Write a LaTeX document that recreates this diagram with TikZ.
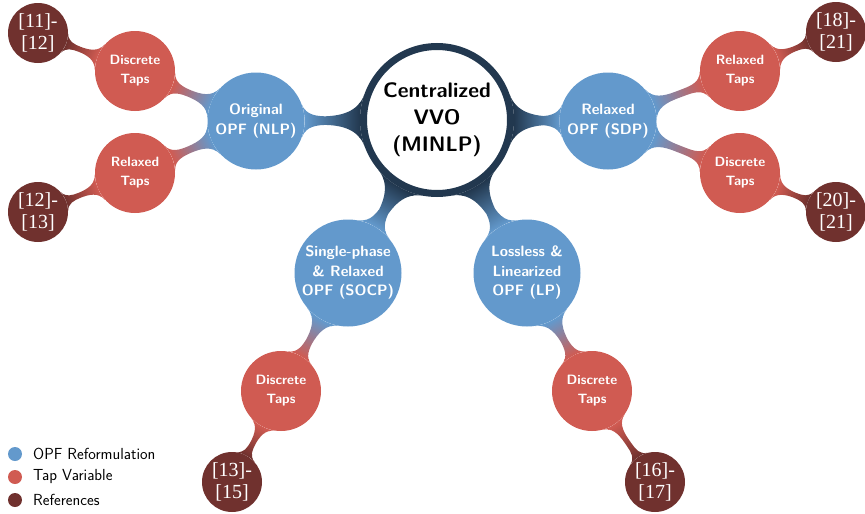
\documentclass[tikz,border=0pt]{standalone}
\usepackage{fontspec}
\newfontfamily\reffont{Liberation Serif}
\usetikzlibrary{mindmap,backgrounds}
\definecolor{rootc}{HTML}{22384F}
\definecolor{opfc}{HTML}{6399CC}
\definecolor{tapc}{HTML}{D05B52}
\definecolor{refc}{HTML}{70312E}
\begin{document}
\begin{tikzpicture}[x=1pt,y=-1pt,
  bubble/.style={circle, inner sep=0pt, align=center, text=white},
  rootnode/.style={circle, fill=white, draw=rootc, line width=7pt, minimum size=147pt,
    inner sep=0pt, align=center, font=\sffamily\bfseries\fontsize{21}{27}\selectfont},
  opfnode/.style={bubble, fill=opfc, font=\sffamily\bfseries\fontsize{15}{19.5}\selectfont},
  tapnode/.style={bubble, fill=tapc, minimum size=80pt, font=\sffamily\bfseries\fontsize{13.5}{19}\selectfont},
  refnode/.style={bubble, fill=refc, minimum size=60pt, font=\reffont\fontsize{20}{22}\selectfont},
  keydot/.style={circle, inner sep=0pt, minimum size=14pt},
  keytext/.style={anchor=west, inner sep=0pt, font=\sffamily\fontsize{16}{18}\selectfont},
  rootbar/.style={circle connection bar switch color=from (rootc) to (opfc)},
  opfbar/.style={circle connection bar switch color=from (opfc) to (tapc)},
  tapbar/.style={circle connection bar switch color=from (tapc) to (refc)},
]
\useasboundingbox (0,0) rectangle (865,514);

% central problem
\node[rootnode] (root) at (437,120) {Centralized\\VVO\\(MINLP)};

% OPF reformulations
\node[opfnode, minimum size=97pt]  (nlp)  at (256,121) {Original\\OPF (NLP)};
\node[opfnode, minimum size=97pt]  (sdp)  at (608,121) {Relaxed\\OPF (SDP)};
\node[opfnode, minimum size=107pt] (socp) at (348,273) {Single-phase\\\& Relaxed\\OPF (SOCP)};
\node[opfnode, minimum size=107pt] (lp)   at (527,273) {Lossless \&\\Linearized\\OPF (LP)};

% tap variables
\node[tapnode] (dtnlp)  at (135,71)  {Discrete\\Taps};
\node[tapnode] (rtnlp)  at (135,173) {Relaxed\\Taps};
\node[tapnode] (rtsdp)  at (740,71)  {Relaxed\\Taps};
\node[tapnode] (dtsdp)  at (740,173) {Discrete\\Taps};
\node[tapnode] (dtsocp) at (281,391) {Discrete\\Taps};
\node[tapnode] (dtlp)   at (592,391) {Discrete\\Taps};

% references
\node[refnode] (ra) at (38,33)   {[11]-\\{}[12]};
\node[refnode] (rb) at (38,212)  {[12]-\\{}[13]};
\node[refnode] (rc) at (836,32)  {[18]-\\{}[21]};
\node[refnode] (rd) at (836,212) {[20]-\\{}[21]};
\node[refnode] (re) at (232,482) {[13]-\\{}[15]};
\node[refnode] (rf) at (655,482) {[16]-\\{}[17]};

% connection bars
\begin{scope}[on background layer]
  \path (root) to[rootbar] (nlp);
  \path (root) to[rootbar] (sdp);
  \path (root) to[rootbar] (socp);
  \path (root) to[rootbar] (lp);
  \path (nlp) to[opfbar] (dtnlp);
  \path (nlp) to[opfbar] (rtnlp);
  \path (sdp) to[opfbar] (rtsdp);
  \path (sdp) to[opfbar] (dtsdp);
  \path (socp) to[opfbar] (dtsocp);
  \path (lp) to[opfbar] (dtlp);
  \path (dtnlp) to[tapbar] (ra);
  \path (rtnlp) to[tapbar] (rb);
  \path (rtsdp) to[tapbar] (rc);
  \path (dtsdp) to[tapbar] (rd);
  \path (dtsocp) to[tapbar] (re);
  \path (dtlp) to[tapbar] (rf);
\end{scope}

% legend
\node[keydot, fill=opfc] (k1) at (15,454) {};
\node[keydot, fill=tapc] (k2) at (15,477) {};
\node[keydot, fill=refc] (k3) at (15,500) {};
\node[keytext] (t1) at (33,454) {OPF Reformulation};
\node[keytext] (t2) at (33,477) {Tap Variable};
\node[keytext] (t3) at (33,500) {References};
\end{tikzpicture}
\end{document}
